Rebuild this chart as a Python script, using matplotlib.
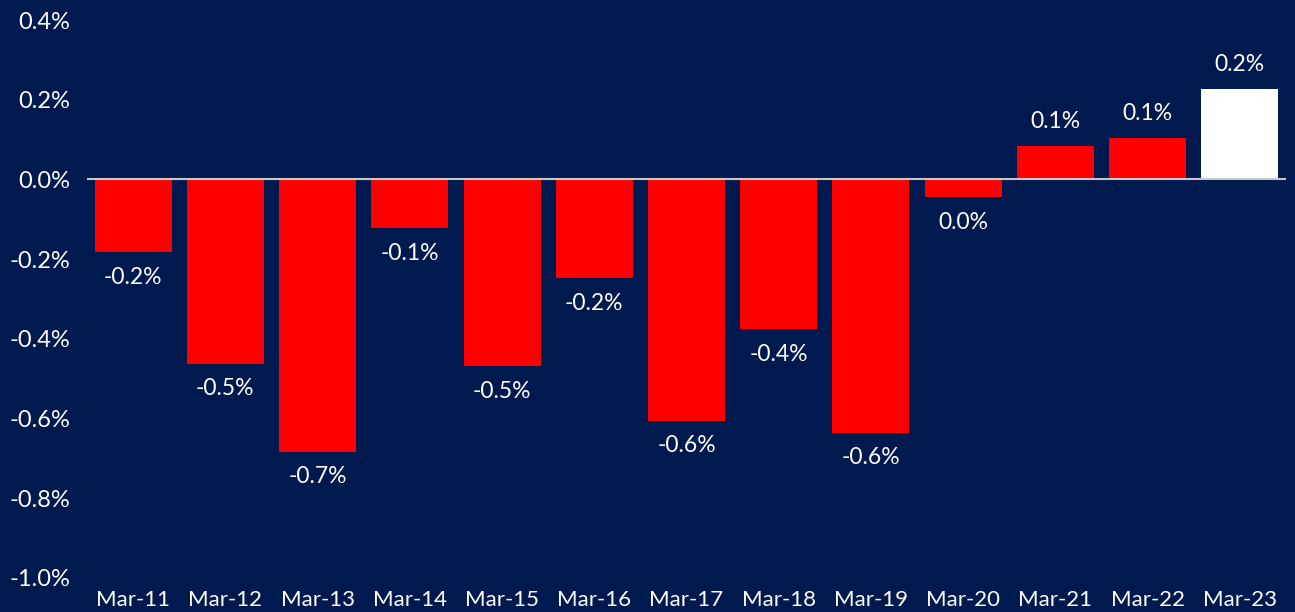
import matplotlib
matplotlib.use("Agg")
import matplotlib.pyplot as plt
from matplotlib.ticker import FuncFormatter

categories = ["Mar-11", "Mar-12", "Mar-13", "Mar-14", "Mar-15", "Mar-16", "Mar-17",
              "Mar-18", "Mar-19", "Mar-20", "Mar-21", "Mar-22", "Mar-23"]
values = [-0.183, -0.462, -0.683, -0.123, -0.469, -0.248, -0.605,
          -0.376, -0.635, -0.045, 0.083, 0.103, 0.228]
labels = ["-0.2%", "-0.5%", "-0.7%", "-0.1%", "-0.5%", "-0.2%", "-0.6%",
          "-0.4%", "-0.6%", "0.0%", "0.1%", "0.1%", "0.2%"]
yticks = [-1.0, -0.8, -0.6, -0.4, -0.2, 0.0, 0.2, 0.4]

BG = "#001A50"
plt.rcParams['font.family'] = ['Lato', 'DejaVu Sans']

fig = plt.figure(figsize=(12.95, 6.12), dpi=100, facecolor=BG)
ax = fig.add_axes([0.0672, 0.0556, 0.9258, 0.9117], facecolor=BG)

x = list(range(len(categories)))
colors = ["#FF0000"] * (len(categories) - 1) + ["#FFFFFF"]
bars = ax.bar(x, values, width=0.835, color=colors, zorder=2)

ax.axhline(0, color="#C8C8C8", lw=1.5, zorder=3)

for xi, v, lab in zip(x, values, labels):
    if v < 0:
        ax.annotate(lab, (xi, v), xytext=(0, -10.5), textcoords="offset points",
                    ha="center", va="top", color="white", fontsize=16.5)
    else:
        ax.annotate(lab, (xi, v), xytext=(0, 10), textcoords="offset points",
                    ha="center", va="bottom", color="white", fontsize=16.5)

ax.set_xlim(-0.5, len(categories) - 0.5)
ax.set_ylim(-1.0, 0.4)
ax.set_yticks(yticks)
ax.yaxis.set_major_formatter(FuncFormatter(lambda v, p: f"{v:.1f}%"))
ax.set_xticks(x)
ax.set_xticklabels(categories)
ax.tick_params(axis="y", length=0, pad=12, colors="white", labelsize=17)
ax.tick_params(axis="x", length=0, pad=9, colors="white", labelsize=16)
for s in ax.spines.values():
    s.set_visible(False)

fig.savefig("out.png", dpi=100, facecolor=BG)
